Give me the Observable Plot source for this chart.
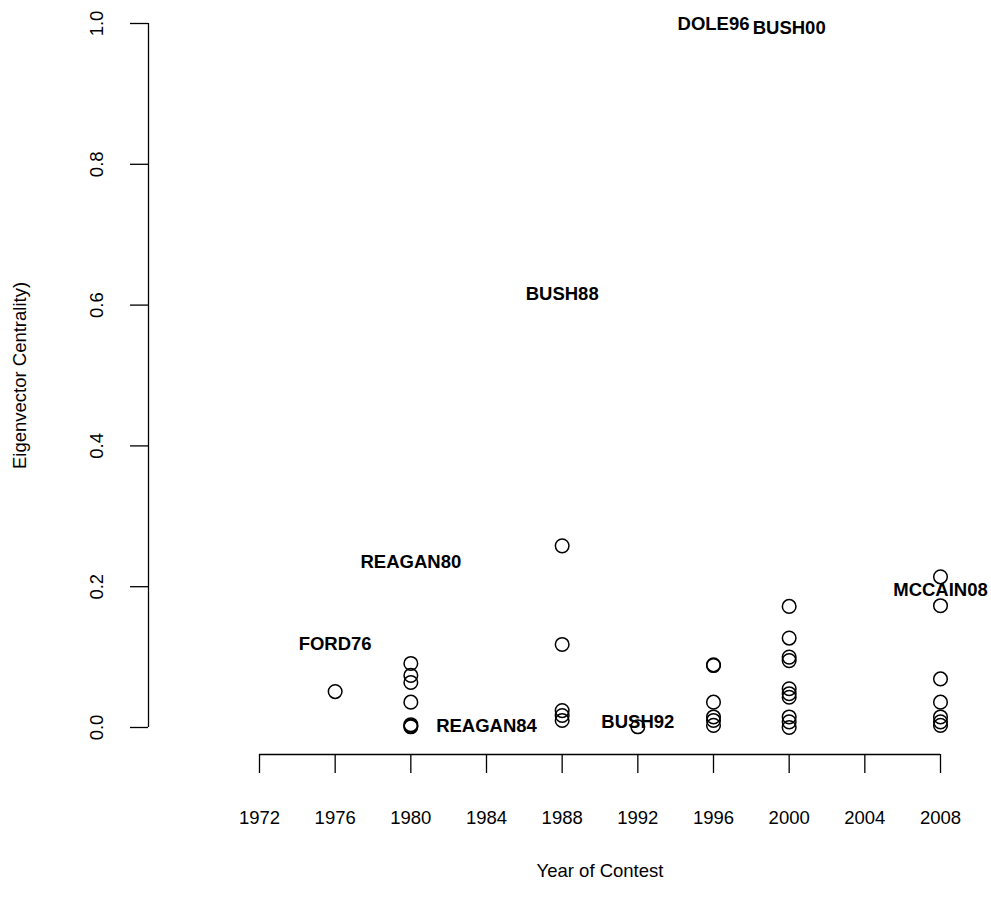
<!DOCTYPE html>
<html>
<head>
<meta charset="utf-8">
<script src="https://cdn.jsdelivr.net/npm/d3@7"></script>
<script src="https://cdn.jsdelivr.net/npm/@observablehq/plot@0.6"></script>
<style>
  html, body { margin: 0; padding: 0; background: white; }
</style>
</head>
<body>
<div id="chart"></div>
<script>
// Candidate points (year of contest, eigenvector centrality)
const pointYears = [
  1976,
  1980, 1980, 1980, 1980, 1980, 1980, 1980,
  1988, 1988, 1988, 1988, 1988,
  1992,
  1996, 1996, 1996, 1996, 1996, 1996,
  2000, 2000, 2000, 2000, 2000, 2000, 2000, 2000, 2000, 2000,
  2008, 2008, 2008, 2008, 2008, 2008, 2008
];
const pointValues = [
  0.051,
  0.091, 0.074, 0.064, 0.036, 0.004, 0.002, 0.001,
  0.258, 0.118, 0.024, 0.017, 0.010,
  0.001,
  0.089, 0.088, 0.036, 0.015, 0.010, 0.003,
  0.172, 0.127, 0.100, 0.095, 0.055, 0.048, 0.043, 0.015, 0.008, 0.000,
  0.214, 0.173, 0.069, 0.036, 0.015, 0.008, 0.003
];

// Nominee labels
const labelNames  = ["FORD76", "REAGAN80", "REAGAN84", "BUSH88", "BUSH92", "DOLE96", "BUSH00", "MCCAIN08"];
const labelYears  = [1976, 1980, 1984, 1988, 1992, 1996, 2000, 2008];
const labelValues = [0.119, 0.235, 0.002, 0.616, 0.008, 0.999, 0.994, 0.195];

// Axis ticks
const xTicks = [1972, 1976, 1980, 1984, 1988, 1992, 1996, 2000, 2004, 2008];
const yTicks = [0, 0.2, 0.4, 0.6, 0.8, 1.0];
const xTitle = "Year of Contest";
const yTitle = "Eigenvector Centrality)";

const points = pointYears.map((y, i) => ({year: y, value: pointValues[i]}));
const labels = labelNames.map((n, i) => ({name: n, year: labelYears[i], value: labelValues[i]}));

const chart = Plot.plot({
  width: 991,
  height: 909,
  marginLeft: 148,
  marginRight: 51,
  marginTop: 23,
  marginBottom: 182,
  style: {
    fontFamily: "'Liberation Sans', Arial, Helvetica, sans-serif",
    fontSize: "18.5px",
    background: "white",
    color: "black",
    overflow: "visible"
  },
  x: {domain: [1972, 2008], range: [259, 940], label: null},
  y: {domain: [0, 1], range: [727, 23], label: null},
  marks: [
    // y axis line and ticks
    Plot.tickX([xTicks[0]], {dx: -111, stroke: "black", strokeWidth: 1.3}),
    Plot.axisY({ticks: yTicks, tickSize: 18, tickFormat: () => "", label: null, stroke: "black", strokeWidth: 1.3, strokeOpacity: 1}),
    Plot.text(yTicks, {
      y: d => d, text: d => d.toFixed(1), frameAnchor: "left", dx: -51,
      rotate: -90, textAnchor: "middle", lineAnchor: "middle", fill: "black"
    }),
    Plot.text([yTitle], {
      text: d => d, frameAnchor: "left", dx: -128, rotate: -90,
      textAnchor: "middle", lineAnchor: "middle", fill: "black"
    }),
    // x axis line and ticks
    Plot.ruleY([0], {x1: xTicks[0], x2: xTicks[xTicks.length - 1], dy: 27, stroke: "black", strokeWidth: 1.3}),
    Plot.axisX({
      ticks: xTicks, tickFormat: d => String(d), tickSize: 19, tickPadding: 37, label: null,
      dy: 27, stroke: "black", strokeWidth: 1.3, strokeOpacity: 1, fill: "black"
    }),
    Plot.text([xTitle], {
      x: () => (xTicks[0] + xTicks[xTicks.length - 1]) / 2, text: d => d,
      frameAnchor: "bottom", dy: 144, textAnchor: "middle", lineAnchor: "middle", fill: "black"
    }),
    // points
    Plot.dot(points, {x: "year", y: "value", r: 6.8, stroke: "black", strokeWidth: 1.5, fill: "none"}),
    // labels
    Plot.text(labels, {
      x: "year", y: "value", text: "name", fontWeight: "bold",
      textAnchor: "middle", lineAnchor: "middle", fill: "black"
    })
  ]
});
document.getElementById("chart").appendChild(chart);
</script>
</body>
</html>
